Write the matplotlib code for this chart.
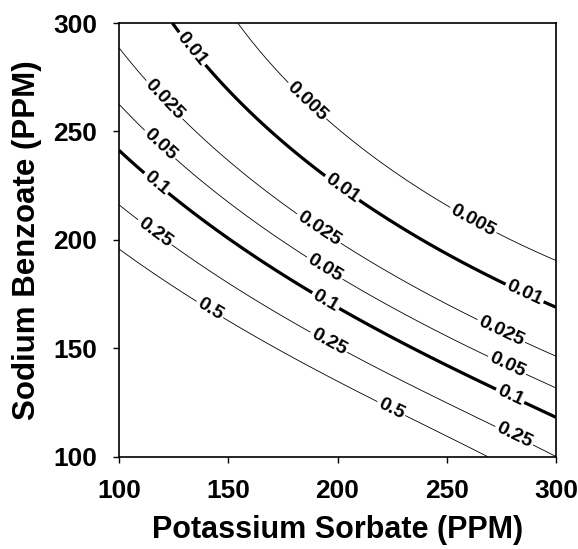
import matplotlib

matplotlib.use("Agg")
import matplotlib.pyplot as plt
import numpy as np

plt.rcParams["font.family"] = ["Liberation Sans", "DejaVu Sans"]
plt.rcParams["font.weight"] = "bold"

# probability levels drawn in the reference; 0.01 and 0.1 are the heavy lines
levels = [0.005, 0.01, 0.025, 0.05, 0.1, 0.25, 0.5]
heavy_levels = [0.01, 0.1]

# points: potassium sorbate (x), sodium benzoate (y)
sorbate_p005 = [163.6, 176.7, 196.6, 248.4, 272.9, 300.0]
benzoate_p005 = [300.0, 274.4, 258.2, 216.5, 201.9, 189.0]

sorbate_p01 = [125.6, 140.1, 149.3, 160.0, 169.1, 193.5, 211.8, 246.9, 274.4, 300.0]
benzoate_p01 = [300.0, 278.2, 269.0, 258.8, 249.7, 228.8, 217.3, 195.7, 179.5, 168.4]

sorbate_p025 = [100.0, 127.9, 136.6, 160.0, 172.2, 181.3, 202.7, 262.2, 286.6, 300.0]
benzoate_p025 = [282.9, 255.9, 246.6, 228.8, 218.1, 211.1, 197.2, 162.5, 152.5, 146.3]

sorbate_p05 = [100.0, 137.1, 149.3, 160.0, 167.6, 184.3, 202.7, 268.3, 286.6, 300.0]
benzoate_p05 = [258.3, 228.1, 218.1, 209.6, 205.0, 193.4, 181.0, 146.3, 137.9, 132.5]

sorbate_p10 = [100.0, 123.3, 137.1, 152.3, 167.6, 188.9, 201.1, 272.9, 286.6, 300.0]
benzoate_p10 = [239.8, 221.2, 211.1, 201.1, 189.5, 175.6, 168.7, 131.6, 124.7, 119.1]

sorbate_p25 = [100.0, 124.1, 137.1, 167.6, 184.3, 204.2, 271.3, 289.6, 300.0]
benzoate_p25 = [216.6, 198.0, 190.3, 171.8, 157.9, 147.8, 114.7, 106.9, 101.5]

sorbate_p50 = [100.0, 135.6, 147.7, 196.6, 205.7, 216.4, 228.6, 268.3]
benzoate_p50 = [197.2, 171.8, 165.6, 136.3, 130.9, 124.0, 119.3, 99.2]

traced = [
    (0.005, sorbate_p005, benzoate_p005),
    (0.01, sorbate_p01, benzoate_p01),
    (0.025, sorbate_p025, benzoate_p025),
    (0.05, sorbate_p05, benzoate_p05),
    (0.1, sorbate_p10, benzoate_p10),
    (0.25, sorbate_p25, benzoate_p25),
    (0.5, sorbate_p50, benzoate_p50),
]


def _features(x, y):
    u = (np.asarray(x, dtype=float) - 200.0) / 100.0
    w = np.log(np.asarray(y, dtype=float) / 200.0)
    return np.stack([np.ones_like(u), u, w, u * u, u * w, w * w, w ** 3], axis=-1)


# least-squares logistic surface through the traced lines
xs = np.concatenate([np.asarray(sx, dtype=float) for _, sx, _ in traced])
ys = np.concatenate([np.asarray(sy, dtype=float) for _, _, sy in traced])
target = np.concatenate([np.full(len(sx), np.log(p / (1 - p))) for p, sx, _ in traced])
coef, *_ = np.linalg.lstsq(_features(xs, ys), target, rcond=None)

gx, gy = np.meshgrid(np.linspace(100, 300, 401), np.linspace(100, 300, 401))
prob = 1.0 / (1.0 + np.exp(-(_features(gx, gy) @ coef)))

fig = plt.figure(figsize=(5.78, 5.49), dpi=100)
ax = fig.add_axes([0.206, 0.168, 0.756, 0.790])

widths = [2.3 if lv in heavy_levels else 0.6 for lv in levels]
cs = ax.contour(gx, gy, prob, levels=levels, colors="black", linewidths=widths)

# approximate label centres, as in the reference
label_spots = [
    (132, 287), (200, 221), (284, 172),
    (186, 264), (261, 207),
    (118, 262), (192, 206), (274, 156),
    (116, 241), (193, 185), (277, 141),
    (116, 225), (194, 171), (278, 126),
    (116, 203), (195, 151), (280, 108),
    (141, 167), (223, 119),
]
ax.clabel(cs, fmt=lambda v: f"{v:g}", fontsize=14, inline=True,
          inline_spacing=2, manual=label_spots)

ax.set_xlim(100, 300)
ax.set_ylim(100, 300)
ax.set_xticks([100, 150, 200, 250, 300])
ax.set_yticks([100, 150, 200, 250, 300])
ax.tick_params(direction="out", length=4, width=1, labelsize=19)
ax.tick_params(axis="x", pad=12)
ax.tick_params(axis="y", pad=12)
ax.set_xlabel("Potassium Sorbate (PPM)", fontsize=22, fontweight="bold", labelpad=9)
ax.set_ylabel("Sodium Benzoate (PPM)", fontsize=22.5, fontweight="bold", labelpad=8)
for side in ax.spines.values():
    side.set_linewidth(1.2)

fig.savefig("out.png", dpi=100)
